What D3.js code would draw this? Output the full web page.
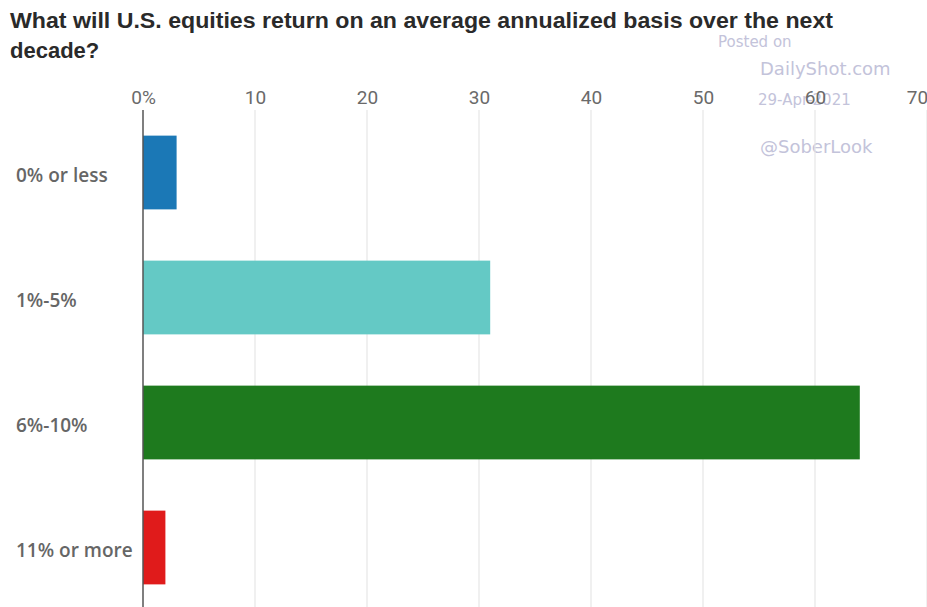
<!DOCTYPE html>
<html>
<head>
<meta charset="utf-8">
<script src="https://cdn.jsdelivr.net/npm/d3@7"></script>
<style>
  html, body { margin: 0; padding: 0; background: #fff; }
  svg { display: block; font-family: "Liberation Sans", Arial, sans-serif; }
</style>
</head>
<body>
<svg id="chart" width="927" height="607"></svg>
<script>
// Survey answers and share of respondents (%)
const categories = ["0% or less", "1%-5%", "6%-10%", "11% or more"];
const shares = [3, 31, 64, 2];
const barColors = ["#1b78b6", "#64c9c5", "#1e7a1e", "#e01b1b"];
const tickValues = [0, 10, 20, 30, 40, 50, 60, 70];
const titleLines = [
  "What will U.S. equities return on an average annualized basis over the next",
  "decade?"
];

const svg = d3.select("#chart");
const W = 927, H = 607;
const plot = { left: 143, top: 110, bottom: 610 };

const x = d3.scaleLinear().domain([0, 70]).range([plot.left, plot.left + 784]);
const y = d3.scaleBand().domain(categories).range([plot.top, plot.bottom])
  .paddingInner(0.41).paddingOuter(0.205);

// Title (first line stretched to the full heading width)
svg.append("g").selectAll("text").data(titleLines).join("text")
  .attr("x", 10).attr("y", (d, i) => 28 + i * 30)
  .attr("font-size", 22).attr("font-weight", "bold").attr("fill", "#2a2a2a")
  .attr("textLength", (d, i) => i === 0 ? 823 : null)
  .attr("lengthAdjust", "spacingAndGlyphs")
  .text(d => d);

// Watermark (drawn first so the axis labels sit on top of it)
const wm = svg.append("g").attr("fill", "#c3c3da")
  .attr("font-family", "'DejaVu Sans', sans-serif");
wm.append("text").attr("x", 718).attr("y", 47).attr("font-size", 15).text("Posted on");
wm.append("text").attr("x", 760).attr("y", 75).attr("font-size", 18).text("DailyShot.com");
wm.append("text").attr("x", 758).attr("y", 105).attr("font-size", 15).text("29-Apr-2021");
wm.append("text").attr("x", 760).attr("y", 153).attr("font-size", 18).text("@SoberLook");

// Vertical grid lines
svg.append("g").selectAll("line").data(tickValues.filter(v => v > 0)).join("line")
  .attr("x1", d => x(d)).attr("x2", d => x(d))
  .attr("y1", plot.top).attr("y2", H)
  .attr("stroke", "#e6e6e6").attr("stroke-width", 1.2);

// Top axis labels; the last one is nudged inward so it stays mostly on the canvas
const axisTop = d3.axisTop(x).tickValues(tickValues)
  .tickFormat(d => d === 0 ? "0%" : d).tickSize(0).tickPadding(0);
const gAxis = svg.append("g").attr("transform", "translate(0,104)").call(axisTop);
gAxis.select(".domain").remove();
gAxis.selectAll(".tick text")
  .attr("dy", 0)
  .attr("font-size", 19).attr("fill", "#6a6a6a")
  .attr("font-family", "Roboto, 'Liberation Sans', sans-serif")
  .attr("dx", d => x(d) > W - 10 ? -10 : 0);

// Bars
svg.append("g").selectAll("rect").data(categories).join("rect")
  .attr("x", x(0))
  .attr("y", d => y(d))
  .attr("width", (d, i) => x(shares[i]) - x(0))
  .attr("height", y.bandwidth())
  .attr("fill", (d, i) => barColors[i]);

// Baseline at zero
svg.append("line")
  .attr("x1", x(0)).attr("x2", x(0)).attr("y1", plot.top).attr("y2", H)
  .attr("stroke", "#555").attr("stroke-width", 1.5);

// Category labels
svg.append("g").selectAll("text").data(categories).join("text")
  .attr("x", 16).attr("y", d => y(d) + y.bandwidth() / 2 + 9)
  .attr("font-family", "'Open Sans', sans-serif")
  .attr("font-size", 19).attr("font-weight", 600).attr("fill", "#666")
  .text(d => d);
</script>
</body>
</html>
